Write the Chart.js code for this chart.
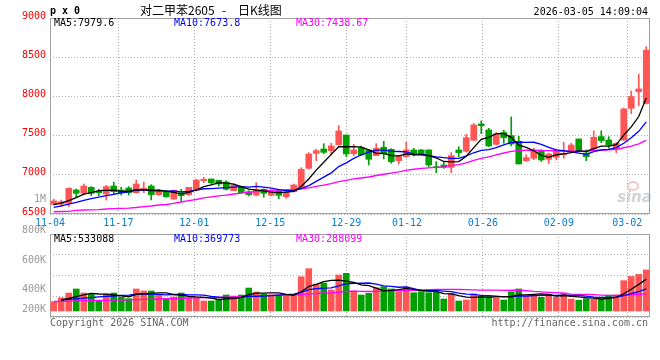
<!DOCTYPE html>
<html>
<head>
<meta charset="utf-8">
<script src="https://cdn.jsdelivr.net/npm/chart.js@4.4.1/dist/chart.umd.min.js"></script>
<style>
  body { margin: 0; background: #fff; width: 660px; height: 360px; position: relative; overflow: hidden; }
  canvas { position: absolute; left: 0; z-index: 1; }
  .t { position: absolute; z-index: 2; white-space: pre; line-height: 12px; font-family: 'DejaVu Sans Mono', monospace; font-size: 10px; color: #000; }
  .vl { right: 614px; color: #999; text-align: right; }
  .wm { position: absolute; z-index: 0; }
</style>
</head>
<body>
<div class="t" style="left:50px;top:5px;font-weight:bold;">p x 0</div>
<div class="t" style="left:140px;top:4px;font-family:'Noto Sans CJK SC';font-size:12px;">对二甲苯2605</div>
<div class="t" style="left:222px;top:4px;font-family:'Noto Sans CJK SC';font-size:12px;">-</div>
<div class="t" style="left:238px;top:4px;font-family:'Noto Sans CJK SC';font-size:12px;">日K线图</div>
<div class="t" id="stamp" style="right:12px;top:6px;"></div>

<div class="t" id="pma5" style="left:54px;top:17px;color:#000;"></div>
<div class="t" id="pma10" style="left:174px;top:17px;color:#0000ff;"></div>
<div class="t" id="pma30" style="left:296px;top:17px;color:#ff00ff;"></div>

<div class="t" id="vma5" style="left:54px;top:233px;color:#000;"></div>
<div class="t" id="vma10" style="left:174px;top:233px;color:#0000ff;"></div>
<div class="t" id="vma30" style="left:296px;top:233px;color:#ff00ff;"></div>

<div id="volLabels"></div>

<div class="t" style="left:50px;top:317px;color:#666;">Copyright 2026 SINA.COM</div>
<div class="t" style="right:12px;top:317px;color:#666;">http://finance.sina.com.cn</div>

<div class="wm" style="left:627px;top:181px;width:8px;height:6px;border:2px solid #f5c8c8;border-radius:50%;"></div>
<div class="wm" style="left:617px;top:188px;color:#d4d4d4;font:italic bold 15px 'DejaVu Sans';">sina</div>

<canvas id="kline" width="660" height="232" style="top:0"></canvas>
<canvas id="vol" width="660" height="100" style="top:226px"></canvas>

<script>
// trading days shown on the chart
const DATES = ['11-04','11-05','11-06','11-07','11-10','11-11','11-12','11-13','11-14','11-17','11-18','11-19','11-20','11-21','11-24','11-25','11-26','11-27','11-28',
  '12-01','12-02','12-03','12-04','12-05','12-08','12-09','12-10','12-11','12-12','12-15','12-16','12-17','12-18','12-19','12-22','12-23','12-24','12-25','12-26','12-29','12-30','12-31',
  '01-05','01-06','01-07','01-08','01-09','01-12','01-13','01-14','01-15','01-16','01-19','01-20','01-21','01-22','01-23','01-26','01-27','01-28','01-29','01-30',
  '02-02','02-03','02-04','02-05','02-06','02-09','02-10','02-11','02-12','02-13','02-24','02-25','02-26','02-27',
  '03-02','03-03','03-04','03-05'];
const DATE_TICKS = ['11-04','11-17','12-01','12-15','12-29','01-12','01-26','02-09','03-02'];

const OPEN = [6623,6628,6636,6806,6764,6840,6789,6755,6857,6806, 6832,6772,6815,6857,6747,6777,6691,6772,6747,6806,
  6925,6947,6930,6908,6798,6849,6785,6742,6815,6738, 6789,6721,6785,6840,7083,7274,7329,7308,7385,7508,
  7270,7346,7317,7244,7351,7325,7181,7232,7317,7317, 7317,7104,7125,7095,7317,7300,7440,7648,7572,7389,
  7540,7500,7427,7180,7210,7300,7197,7223,7257,7306, 7457,7278,7329,7487,7444,7327,7445,7848,8061,7910];
const HIGH = [6688,6679,6836,6819,6883,6849,6815,6866,6908,6840, 6849,6934,6908,6874,6815,6785,6806,6815,6840,6942,
  6968,6947,6930,6925,6883,6857,6798,6900,6823,6806, 6806,6806,6883,7091,7283,7325,7397,7402,7627,7508,
  7389,7368,7317,7397,7427,7334,7240,7414,7338,7325, 7317,7168,7168,7283,7359,7517,7655,7687,7593,7538,
  7568,7738,7491,7257,7342,7320,7274,7328,7416,7402, 7457,7317,7561,7561,7487,7410,7852,8069,8285,8635];
const LOW = [6615,6595,6594,6708,6742,6734,6734,6679,6759,6742, 6742,6764,6772,6679,6738,6713,6687,6666,6738,6793,
  6900,6883,6857,6806,6798,6764,6730,6730,6713,6730, 6696,6700,6781,6840,7070,7181,7270,7253,7376,7232,
  7244,7244,7125,7244,7202,7147,7138,7223,7240,7253, 7104,7027,7083,7027,7232,7290,7436,7525,7359,7380,
  7402,7368,7138,7168,7193,7170,7143,7189,7210,7283, 7295,7180,7317,7410,7338,7283,7436,7780,7880,7903];
const CLOSE = [6666,6657,6828,6764,6857,6764,6772,6849,6785,6772, 6772,6883,6828,6747,6785,6721,6802,6734,6840,6934,
  6942,6900,6883,6815,6870,6772,6747,6815,6764,6794, 6738,6785,6870,7070,7266,7308,7287,7368,7559,7266,
  7317,7253,7198,7338,7266,7168,7240,7317,7274,7266, 7125,7091,7095,7244,7283,7474,7636,7627,7368,7521,
  7474,7393,7138,7219,7304,7189,7265,7304,7274,7380, 7308,7231,7478,7436,7380,7402,7840,7997,8095,8590];

const MA5 = [6620,6640,6670,6710,6754,6774,6797,6801,6805,6788, 6790,6812,6808,6800,6803,6793,6777,6758,6776,6806,
  6850,6870,6900,6895,6882,6848,6817,6804,6794,6778, 6772,6779,6790,6851,6946,7060,7160,7260,7358,7358,
  7359,7353,7319,7274,7274,7245,7242,7266,7253,7253, 7244,7215,7170,7164,7168,7237,7346,7453,7478,7525,
  7525,7477,7379,7349,7306,7249,7223,7256,7267,7282, 7306,7299,7334,7367,7367,7385,7507,7611,7743,7980];
const MA10 = [6585,6605,6625,6648,6675,6695,6715,6733,6750,6771, 6782,6805,6805,6803,6796,6791,6794,6783,6788,6805,
  6822,6823,6829,6836,6844,6849,6844,6852,6844,6830, 6810,6798,6797,6823,6862,6916,6970,7025,7105,7152,
  7210,7256,7289,7316,7316,7302,7297,7292,7264,7264, 7245,7228,7218,7209,7210,7241,7281,7312,7321,7346,
  7381,7412,7416,7413,7415,7387,7350,7318,7308,7294, 7277,7261,7295,7317,7325,7346,7403,7473,7555,7674];
const MA30 = [6529,6532,6534,6545,6551,6553,6557,6564,6568,6573, 6576,6583,6593,6602,6615,6621,6636,6653,6670,6685,
  6705,6718,6730,6742,6755,6765,6775,6785,6795,6802, 6804,6809,6810,6820,6834,6852,6869,6887,6912,6929,
  6947,6959,6972,6991,7007,7022,7037,7056,7071,7082, 7088,7094,7101,7116,7129,7153,7183,7210,7230,7254,
  7278,7299,7308,7313,7314,7310,7309,7307,7298,7301, 7301,7300,7310,7313,7317,7325,7345,7367,7395,7439];

// volume, in thousands
const VOLUME_K = [156,223,302,370,302,281,173,286,302,230, 207,370,336,336,269,202,235,302,223,218,
  168,168,190,269,252,269,386,319,281,269, 269,252,252,576,711,454,470,353,605,633,
  336,269,297,391,408,370,324,403,307,324, 307,314,202,297,168,185,286,252,252,223,
  185,324,370,252,269,230,269,230,302,202, 180,208,198,208,265,269,510,580,615,690];
const VOL_MA5 = [null,185,210,240,271,296,286,282,269,254, 240,279,289,296,304,303,276,269,246,236,
  229,216,193,203,209,230,273,299,301,305, 305,278,265,324,412,449,493,513,519,503,
  479,439,428,385,340,347,358,379,362,346, 333,331,291,289,258,233,228,238,229,240,
  240,247,271,271,280,289,278,250,260,247, 237,224,218,199,212,230,290,366,448,533];
const VOL_MA10 = [null,185,195,205,215,225,238,245,252,263, 268,282,286,282,279,271,277,279,271,270,
  266,246,231,224,223,229,245,246,252,257, 267,276,282,313,358,377,385,389,421,458,
  464,466,470,452,422,413,399,404,374,343, 340,345,335,326,302,283,279,264,259,249,
  236,237,254,250,260,264,263,260,265,263, 263,251,234,230,229,233,257,292,324,370];
const VOL_MA30 = [160,163,166,170,173,176,178,180,182,184, 186,190,194,198,202,206,210,214,218,222,
  224,226,228,232,236,242,248,253,258,263, 267,268,266,273,287,292,302,305,315,328,
  332,329,328,330,334,340,343,346,349,353, 357,362,362,363,361,358,354,352,351,350,
  347,349,353,342,328,320,314,309,299,285, 280,278,274,268,264,260,266,272,280,288];

const PRICE_MA_TEXT = ['MA5:7979.6', 'MA10:7673.8', 'MA30:7438.67'];
const VOL_MA_TEXT = ['MA5:533088', 'MA10:369773', 'MA30:288099'];
const VOL_AXIS_LABELS = ['1M', '800K', '600K', '400K', '200K'];
const STAMP = '2026-03-05 14:09:04';

// header texts
document.getElementById('stamp').textContent = STAMP;
['pma5', 'pma10', 'pma30'].forEach((id, i) => document.getElementById(id).textContent = PRICE_MA_TEXT[i]);
['vma5', 'vma10', 'vma30'].forEach((id, i) => document.getElementById(id).textContent = VOL_MA_TEXT[i]);

// volume axis labels (sina puts them 30px apart, last one pushed into the panel)
const volTops = [193, 224, 254, 283, 303];
const volBox = document.getElementById('volLabels');
VOL_AXIS_LABELS.forEach((txt, i) => {
    const d = document.createElement('div');
    d.className = 't vl';
    d.style.top = volTops[i] + 'px';
    d.textContent = txt;
    volBox.appendChild(d);
});

Chart.defaults.font.family = "'DejaVu Sans Mono', monospace";
Chart.defaults.font.size = 10;

const UP = '#ff5555', DOWN = '#00a000';
const GRID = '#b0b0b0';
const candleColor = OPEN.map((o, i) => CLOSE[i] >= o ? UP : DOWN);

// panel frame
const frame = {
    id: 'frame',
    beforeDatasetsDraw(chart) {
        const { ctx, chartArea: a } = chart;
        ctx.save();
        ctx.strokeStyle = '#a0a0a0';
        ctx.lineWidth = 1;
        ctx.strokeRect(a.left + 0.5, a.top + 0.5, a.right - a.left - 1, a.bottom - a.top - 1);
        ctx.restore();
    }
};

// date grid: sina spreads it evenly over the panel, independent of the candle slots
function dateAxis(showLabels) {
    return {
        type: 'linear',
        position: 'bottom',
        offset: false,
        min: 0,
        max: DATES.length - 1,
        afterBuildTicks(s) { s.ticks = DATE_TICKS.map(d => ({ value: DATES.indexOf(d) })); },
        afterFit(s) { s.height = showLabels ? 18 : 0; },
        grid: { color: GRID, drawTicks: false, offset: false },
        border: { display: false, dash: [1, 2] },
        ticks: {
            display: showLabels,
            color: '#0a7dd0',
            padding: 3,
            maxRotation: 0,
            autoSkip: false,
            callback: v => DATES[v]
        }
    };
}

function maLine(data, color) {
    return { type: 'line', data, borderColor: color, borderWidth: 1.3, pointRadius: 0, tension: 0, order: 0 };
}

new Chart(document.getElementById('kline'), {
    type: 'bar',
    data: {
        labels: DATES,
        datasets: [
            maLine(MA5, '#000000'),
            maLine(MA10, '#0000ff'),
            maLine(MA30, '#ff00ff'),
            {
                data: LOW.map((l, i) => [l, HIGH[i]]),
                backgroundColor: candleColor,
                barThickness: 1,
                grouped: false,
                order: 2
            },
            {
                data: OPEN.map((o, i) => [o, CLOSE[i]]),
                backgroundColor: candleColor,
                barThickness: 6,
                minBarLength: 1,
                grouped: false,
                order: 1
            }
        ]
    },
    options: {
        responsive: false,
        animation: false,
        devicePixelRatio: 1,
        layout: { padding: { top: 18, right: 10, left: 0, bottom: 0 } },
        plugins: { legend: { display: false }, tooltip: { enabled: false } },
        scales: {
            x: { display: false, offset: true },
            xg: dateAxis(true),
            y: {
                min: 6500,
                max: 9000,
                afterFit(s) { s.width = 50; },
                grid: { color: GRID, drawTicks: false },
                border: { display: false, dash: [1, 2] },
                ticks: { stepSize: 500, color: '#ff0000', padding: 4, labelOffset: -2, callback: v => String(v) }
            }
        }
    },
    plugins: [frame]
});

new Chart(document.getElementById('vol'), {
    type: 'bar',
    data: {
        labels: DATES,
        datasets: [
            maLine(VOL_MA5, '#000000'),
            maLine(VOL_MA10, '#0000ff'),
            maLine(VOL_MA30, '#ff00ff'),
            {
                data: VOLUME_K,
                backgroundColor: candleColor,
                barThickness: 6,
                order: 1
            }
        ]
    },
    options: {
        responsive: false,
        animation: false,
        devicePixelRatio: 1,
        layout: { padding: { top: 8, right: 10, left: 0, bottom: 9 } },
        plugins: { legend: { display: false }, tooltip: { enabled: false } },
        scales: {
            x: { display: false, offset: true },
            xg: dateAxis(false),
            y: {
                min: -100.8,
                max: 1293.6,
                afterFit(s) { s.width = 50; },
                afterBuildTicks(s) {
                    // four equal bands, like the original panel
                    s.ticks = [0, 1, 2, 3, 4].map(k => ({ value: s.min + (s.max - s.min) * k / 4 }));
                },
                grid: { color: GRID, drawTicks: false },
                border: { display: false, dash: [1, 2] },
                ticks: { display: false }
            }
        }
    },
    plugins: [frame]
});
</script>
</body>
</html>
